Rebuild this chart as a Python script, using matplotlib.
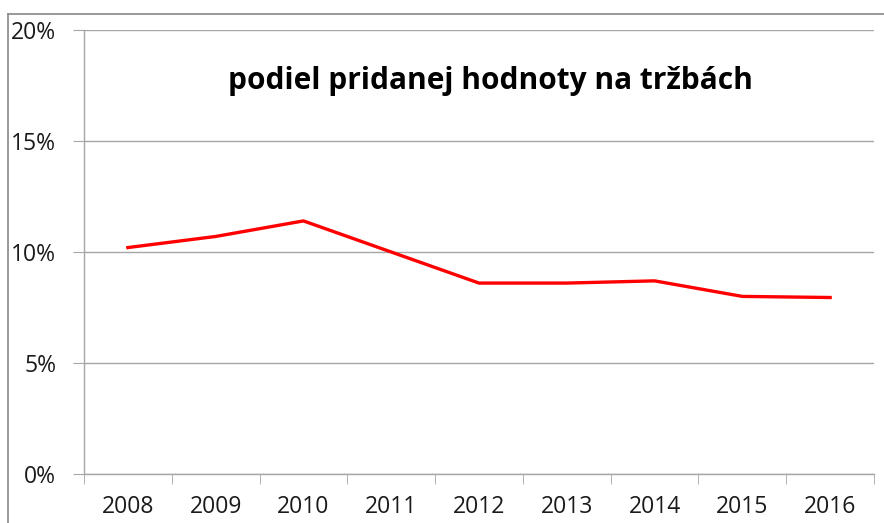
import matplotlib
matplotlib.use("Agg")
import matplotlib.pyplot as plt
from matplotlib.lines import Line2D
from matplotlib.ticker import FixedLocator, PercentFormatter

years = ["2008", "2009", "2010", "2011", "2012", "2013", "2014", "2015", "2016"]
values = [10.2, 10.7, 11.4, 10.0, 8.6, 8.6, 8.7, 8.0, 7.95]
yticks = [0, 5, 10, 15, 20]
title = "podiel pridanej hodnoty na tržbách"

plt.rcParams['font.family'] = ['Open Sans', 'DejaVu Sans']

fig = plt.figure(figsize=(8.84, 5.23), dpi=100)
ax = fig.add_axes([84/884, 49/523, 790/884, 444/523])

x = list(range(len(years)))
ax.plot(x, values, color="#ff0000", linewidth=2.4, solid_joinstyle='round')

ax.set_xlim(-0.5, len(years) - 0.5)
ax.set_ylim(0, 20)
ax.set_yticks(yticks)
ax.yaxis.set_major_formatter(PercentFormatter(decimals=0))
ax.yaxis.grid(True, color="#a6a6a6", linewidth=1)
ax.set_axisbelow(True)

ax.set_xticks(x)
ax.set_xticklabels(years)
ax.xaxis.set_minor_locator(FixedLocator([i - 0.5 for i in range(len(years) + 1)]))
ax.tick_params(axis='x', which='major', length=0, pad=15, labelsize=16.5, colors='#1a1a1a')
ax.tick_params(axis='x', which='minor', length=7, color="#a6a6a6", direction='out')
ax.tick_params(axis='y', which='major', length=8, color="#a6a6a6", pad=12, labelsize=16.5, labelcolor='#1a1a1a')

for s in ['top', 'right']:
    ax.spines[s].set_visible(False)
for s in ['left', 'bottom']:
    ax.spines[s].set_color("#a6a6a6")
    ax.spines[s].set_linewidth(1)

ax.text(0.515, 0.885, title, transform=ax.transAxes, ha='center', va='center',
        fontsize=21.5, fontweight='bold')

# outer chart border (cropped at right and bottom)
yt = 1 - 14/523
xl = 8/884
fig.add_artist(Line2D([xl, 1], [yt, yt], transform=fig.transFigure, color="#888888", linewidth=1.2))
fig.add_artist(Line2D([xl, xl], [0, yt], transform=fig.transFigure, color="#888888", linewidth=1.2))

fig.savefig("out.png", dpi=100)
